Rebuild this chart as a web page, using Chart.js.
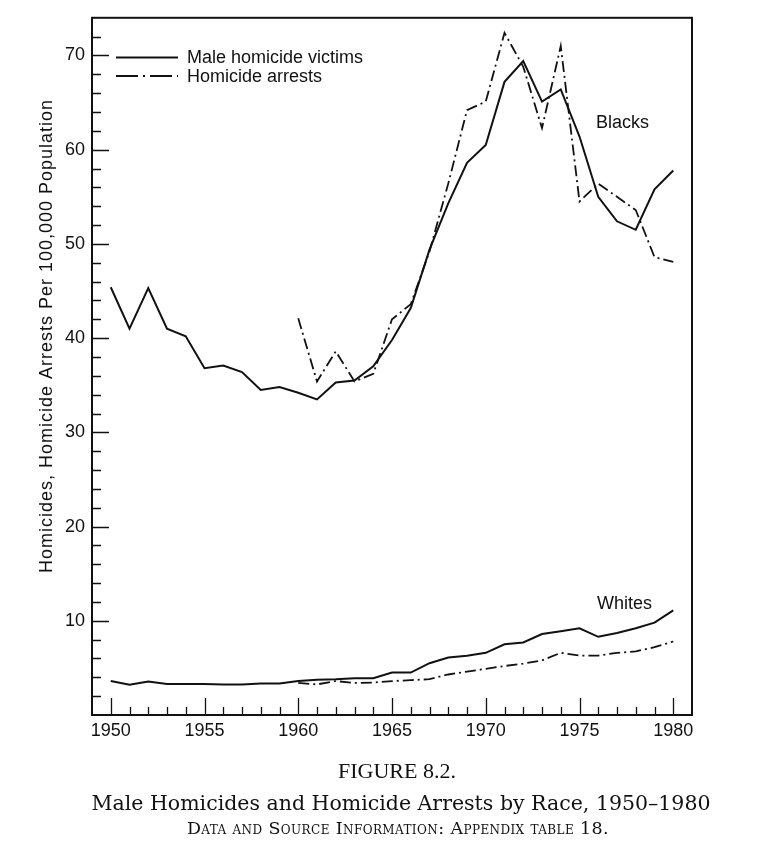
<!DOCTYPE html>
<html>
<head>
<meta charset="utf-8">
<script src="https://cdn.jsdelivr.net/npm/chart.js@4.4.0/dist/chart.umd.min.js"></script>
<style>
html, body { margin: 0; padding: 0; background: #fff; }
#wrap { position: relative; width: 764px; height: 860px; }
#myChart { position: absolute; left: 0; top: 0; }
.cap { position: absolute; width: 764px; text-align: center; font-family: "Liberation Serif", "DejaVu Serif", serif; color: #111; white-space: nowrap; }
</style>
</head>
<body>
<div id="wrap">
  <canvas id="myChart" width="764" height="860"></canvas>
  <div class="cap" style="left:15px; top:758px; font-size:22px;">FIGURE 8.2.</div>
  <div class="cap" style="left:19px; top:791px; font-size:20.5px; font-family:'DejaVu Serif', serif;">Male Homicides and Homicide Arrests by Race, 1950–1980</div>
  <div class="cap" style="left:16px; top:818px; font-size:17.5px; letter-spacing:0.4px; font-family:'DejaVu Serif', serif; font-variant:small-caps;">Data and Source Information: Appendix table 18.</div>
</div>
<script>
// years on the x axis
const years = [1950, 1951, 1952, 1953, 1954, 1955, 1956, 1957, 1958, 1959,
               1960, 1961, 1962, 1963, 1964, 1965, 1966, 1967, 1968, 1969,
               1970, 1971, 1972, 1973, 1974, 1975, 1976, 1977, 1978, 1979, 1980];
const arrestYears = [1960, 1961, 1962, 1963, 1964, 1965, 1966, 1967, 1968, 1969,
                     1970, 1971, 1972, 1973, 1974, 1975, 1976, 1977, 1978, 1979, 1980];

// blacks
const blackVictims = [45.4, 41.0, 45.3, 41.0, 40.2, 36.8, 37.1, 36.4, 34.5, 34.8,
                      34.2, 33.5, 35.3, 35.5, 37.0, 39.8, 43.2, 49.4, 54.3, 58.6,
                      60.5, 67.2, 69.4, 65.1, 66.4, 61.4, 55.0, 52.4, 51.5, 55.8, 57.8];
const blackArrests = [42.1, 35.4, 38.6, 35.4, 36.2, 42.0, 43.6, 49.2, 56.4, 64.2,
                      65.1, 72.4, 68.8, 62.3, 71.0, 54.5, 56.4, 55.0, 53.6, 48.6, 48.1];

// whites
const whiteVictims = [3.6, 3.2, 3.55, 3.3, 3.3, 3.3, 3.25, 3.25, 3.35, 3.35,
                      3.6, 3.75, 3.8, 3.9, 3.9, 4.5, 4.5, 5.5, 6.1, 6.3,
                      6.6, 7.5, 7.7, 8.6, 8.9, 9.2, 8.3, 8.7, 9.2, 9.8, 11.1];
const whiteArrests = [3.4, 3.25, 3.6, 3.4, 3.45, 3.6, 3.7, 3.8, 4.3, 4.6,
                      4.9, 5.2, 5.45, 5.8, 6.6, 6.3, 6.3, 6.6, 6.75, 7.2, 7.8];

const xTickLabels = [1950, 1955, 1960, 1965, 1970, 1975, 1980];
const yTickLabels = [10, 20, 30, 40, 50, 60, 70];
const legendLabels = ['Male homicide victims', 'Homicide arrests'];
const yTitle = 'Homicides, Homicide Arrests Per 100,000 Population';

const sans = '"Liberation Sans", Arial, sans-serif';
const dashDot = [11, 4, 2, 4];

function pts(xs, ys) {
    return xs.map((x, i) => ({ x: x, y: ys[i] }));
}

function lineSet(label, xs, ys, dash) {
    return {
        label: label,
        data: pts(xs, ys),
        borderColor: '#111',
        borderWidth: dash ? 1.8 : 2,
        borderDash: dash || [],
        pointRadius: 0,
        tension: 0,
        fill: false
    };
}

// ticks, frame, legend and labels
const extras = {
    id: 'extras',
    afterDraw(chart) {
        const ctx = chart.ctx;
        const a = chart.chartArea;
        const xs = chart.scales.x;
        const ys = chart.scales.y;
        ctx.save();
        ctx.strokeStyle = '#111';
        ctx.lineWidth = 2;
        ctx.strokeRect(a.left, a.top, a.right - a.left, a.bottom - a.top);

        ctx.lineWidth = 1.3;
        ctx.beginPath();
        years.forEach(yr => {
            const px = Math.round(xs.getPixelForValue(yr)) + 0.5;
            const len = xTickLabels.includes(yr) ? 17 : 8;
            ctx.moveTo(px, a.bottom);
            ctx.lineTo(px, a.bottom - len);
        });
        for (let v = 2; v < ys.max; v += 2) {
            const py = Math.round(ys.getPixelForValue(v)) + 0.5;
            const len = v % 10 === 0 ? 17 : 9;
            ctx.moveTo(a.left, py);
            ctx.lineTo(a.left + len, py);
        }
        ctx.stroke();

        // legend
        ctx.lineWidth = 2;
        ctx.beginPath();
        ctx.moveTo(116, 57.5);
        ctx.lineTo(178, 57.5);
        ctx.stroke();
        ctx.setLineDash([22, 5, 2, 5]);
        ctx.lineWidth = 1.8;
        ctx.beginPath();
        ctx.moveTo(116, 76);
        ctx.lineTo(178, 76);
        ctx.stroke();
        ctx.setLineDash([]);

        ctx.fillStyle = '#111';
        ctx.font = '18px ' + sans;
        ctx.textBaseline = 'middle';
        ctx.textAlign = 'left';
        ctx.fillText(legendLabels[0], 187, 58);
        ctx.fillText(legendLabels[1], 187, 77);
        ctx.fillText('Blacks', 596, 123);
        ctx.fillText('Whites', 597, 604);

        ctx.translate(47, 336);
        ctx.rotate(-Math.PI / 2);
        ctx.textAlign = 'center';
        ctx.font = '18px ' + sans;
        if ('letterSpacing' in ctx) ctx.letterSpacing = '1px';
        ctx.fillText(yTitle, 0, 0);
        ctx.restore();
    }
};

const ctx = document.getElementById('myChart').getContext('2d');
const myChart = new Chart(ctx, {
    type: 'line',
    data: {
        datasets: [
            lineSet('Blacks victims', years, blackVictims),
            lineSet('Blacks arrests', arrestYears, blackArrests, dashDot),
            lineSet('Whites victims', years, whiteVictims),
            lineSet('Whites arrests', arrestYears, whiteArrests, dashDot)
        ]
    },
    options: {
        responsive: false,
        animation: false,
        layout: { padding: { left: 0, top: 15, right: 72, bottom: 0 } },
        plugins: { legend: { display: false }, tooltip: { enabled: false } },
        scales: {
            x: {
                type: 'linear',
                min: 1949,
                max: 1981,
                afterBuildTicks: s => { s.ticks = xTickLabels.map(v => ({ value: v })); },
                afterFit: s => { s.height = 145; },
                grid: { display: false, drawTicks: false },
                border: { display: false },
                ticks: {
                    color: '#111',
                    padding: 5,
                    maxRotation: 0,
                    font: { family: sans, size: 18 },
                    callback: v => String(v)
                }
            },
            y: {
                min: 0,
                max: 74,
                afterBuildTicks: s => { s.ticks = yTickLabels.map(v => ({ value: v })); },
                afterFit: s => { s.width = 92; },
                grid: { display: false, drawTicks: false },
                border: { display: false },
                ticks: {
                    color: '#111',
                    padding: 7,
                    font: { family: sans, size: 18 }
                }
            }
        }
    },
    plugins: [extras]
});
</script>
</body>
</html>
